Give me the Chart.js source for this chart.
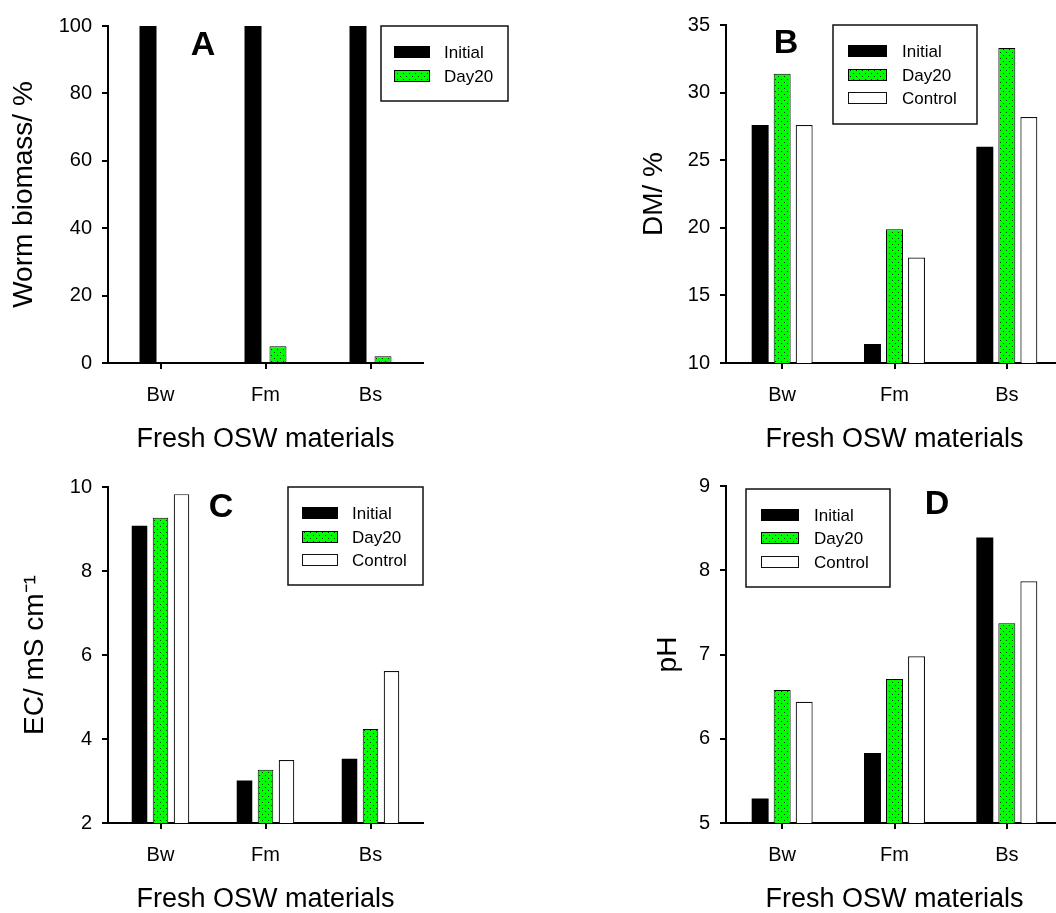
<!DOCTYPE html>
<html>
<head>
<meta charset="utf-8">
<script src="https://cdn.jsdelivr.net/npm/chart.js@4"></script>
<style>
  html, body { margin: 0; padding: 0; background: #fff; overflow: hidden; width: 1056px; height: 913px; }
  canvas { position: absolute; }
</style>
</head>
<body>
<canvas id="chartA" width="528" height="456" style="left:0px;top:0px"></canvas>
<canvas id="chartB" width="560" height="456" style="left:528px;top:0px"></canvas>
<canvas id="chartC" width="528" height="457" style="left:0px;top:456px"></canvas>
<canvas id="chartD" width="560" height="457" style="left:528px;top:456px"></canvas>
<script>
const categories = ['Bw', 'Fm', 'Bs'];
const seriesNames = ['Initial', 'Day20', 'Control'];

// A - worm biomass
const biomassInitial = [100, 100, 100];
const biomassDay20 = [0, 5, 2];
const biomassTicks = [0, 20, 40, 60, 80, 100];

// B - dry matter
const dmInitial = [27.6, 11.4, 26.0];
const dmDay20 = [31.4, 19.9, 33.3];
const dmControl = [27.6, 17.8, 28.2];
const dmTicks = [10, 15, 20, 25, 30, 35];

// C - electrical conductivity
const ecInitial = [9.08, 3.01, 3.53];
const ecDay20 = [9.27, 3.27, 4.24];
const ecControl = [9.83, 3.5, 5.62];
const ecTicks = [2, 4, 6, 8, 10];

// D - pH
const phInitial = [5.29, 5.83, 8.39];
const phDay20 = [6.58, 6.71, 7.37];
const phControl = [6.44, 6.98, 7.87];
const phTicks = [5, 6, 7, 8, 9];

const FONT = '"Liberation Sans", Arial, Helvetica, sans-serif';

// green fill with dark dots
function dottedGreen() {
  const c = document.createElement('canvas');
  c.width = 6; c.height = 6;
  const g = c.getContext('2d');
  g.fillStyle = '#00ff00';
  g.fillRect(0, 0, 6, 6);
  g.fillStyle = '#063006';
  g.fillRect(1, 1, 1, 1);
  g.fillRect(4, 4, 1, 1);
  return g.createPattern(c, 'repeat');
}
const greenDots = dottedGreen();

function makeDatasets(values) {
  const styles = [
    { backgroundColor: '#000', borderColor: '#000', borderWidth: 0 },
    { backgroundColor: greenDots, borderColor: '#000', borderWidth: 1 },
    { backgroundColor: '#fff', borderColor: '#111', borderWidth: 1.2 }
  ];
  return values.map((v, i) => Object.assign({ label: seriesNames[i], data: v }, styles[i]));
}

// panel letter and boxed legend
const panelDecor = {
  id: 'panelDecor',
  afterDraw(chart, args, o) {
    const ctx = chart.ctx;
    ctx.save();
    ctx.fillStyle = '#000';
    ctx.font = 'bold 34px ' + FONT;
    ctx.textAlign = 'center';
    ctx.textBaseline = 'middle';
    ctx.fillText(o.letter, o.letterX, o.letterY);

    const b = o.box;
    ctx.fillStyle = '#fff';
    ctx.fillRect(b[0], b[1], b[2] - b[0], b[3] - b[1]);
    ctx.strokeStyle = '#111';
    ctx.lineWidth = 1.5;
    ctx.strokeRect(b[0], b[1], b[2] - b[0], b[3] - b[1]);

    ctx.font = '17px ' + FONT;
    ctx.textAlign = 'left';
    chart.data.datasets.forEach((ds, i) => {
      const y = o.rows[i];
      const x0 = o.swatch[0], w = o.swatch[1] - o.swatch[0], h = 12;
      ctx.fillStyle = ds.backgroundColor;
      ctx.fillRect(x0, y - h / 2, w, h);
      if (ds.borderWidth) {
        ctx.strokeStyle = ds.borderColor;
        ctx.lineWidth = 1;
        ctx.strokeRect(x0 + 0.5, y - h / 2 + 0.5, w - 1, h - 1);
      }
      ctx.fillStyle = '#000';
      ctx.fillText(ds.label, o.textX, y + 1);
    });
    ctx.restore();
  }
};

function makePanel(id, p) {
  const canvas = document.getElementById(id);
  const H = canvas.height;
  return new Chart(canvas.getContext('2d'), {
    type: 'bar',
    data: { labels: categories, datasets: makeDatasets(p.values) },
    options: {
      responsive: false,
      animation: false,
      categoryPercentage: p.cp,
      barPercentage: p.bp,
      layout: { padding: { top: p.top, right: p.padRight, bottom: 0, left: 0 } },
      plugins: {
        legend: { display: false },
        tooltip: { enabled: false },
        panelDecor: p.decor
      },
      scales: {
        x: {
          grid: { display: true, drawOnChartArea: false, offset: false, tickLength: 6, color: '#000', lineWidth: 2 },
          border: { display: true, color: '#000', width: 2 },
          ticks: { color: '#000', padding: 14, font: { family: FONT, size: 20 } },
          title: { display: true, text: 'Fresh OSW materials', color: '#000',
                   font: { family: FONT, size: 27, lineHeight: 1 }, padding: { top: 0, bottom: p.xTitlePad } },
          afterFit(scale) { scale.height = H - p.bottom; }
        },
        y: {
          min: p.ticks[0],
          max: p.ticks[p.ticks.length - 1],
          grid: { display: true, drawOnChartArea: false, tickLength: 6, color: '#000', lineWidth: 2 },
          border: { display: true, color: '#000', width: 2 },
          ticks: { color: '#000', padding: 10, stepSize: p.ticks[1] - p.ticks[0], font: { family: FONT, size: 20 } },
          title: { display: true, text: p.yTitle, color: '#000',
                   font: { family: FONT, size: 28, lineHeight: 1 }, padding: { top: p.yTitleOffset - 14, bottom: 0 } },
          afterFit(scale) { scale.width = p.left; }
        }
      }
    },
    plugins: [panelDecor]
  });
}

makePanel('chartA', {
  values: [biomassInitial, biomassDay20], ticks: biomassTicks,
  cp: 0.476, bp: 0.68,
  left: 108, top: 26, bottom: 363, padRight: 105,
  yTitle: 'Worm biomass/ %', yTitleOffset: 24, xTitlePad: 2.5,
  decor: { letter: 'A', letterX: 203, letterY: 46,
           box: [381, 26, 508, 101], swatch: [394, 430], rows: [52, 76], textX: 444 }
});

makePanel('chartB', {
  values: [dmInitial, dmDay20, dmControl], ticks: dmTicks,
  cp: 0.588, bp: 0.77,
  left: 198, top: 25, bottom: 363, padRight: 25,
  yTitle: 'DM/ %', yTitleOffset: 126, xTitlePad: 2.5,
  decor: { letter: 'B', letterX: 258, letterY: 44,
           box: [305, 25, 449, 124], swatch: [320, 359], rows: [51, 75, 98], textX: 374 }
});

makePanel('chartC', {
  values: [ecInitial, ecDay20, ecControl], ticks: ecTicks,
  cp: 0.6, bp: 0.74,
  left: 108, top: 31, bottom: 367, padRight: 105,
  yTitle: 'EC/ mS cm\u207B\u00B9', yTitleOffset: 35, xTitlePad: 0,
  decor: { letter: 'C', letterX: 221, letterY: 52,
           box: [288, 31, 423, 129], swatch: [302, 338], rows: [57, 81, 104], textX: 352 }
});

makePanel('chartD', {
  values: [phInitial, phDay20, phControl], ticks: phTicks,
  cp: 0.588, bp: 0.77,
  left: 198, top: 30, bottom: 367, padRight: 25,
  yTitle: 'pH', yTitleOffset: 140, xTitlePad: 0,
  decor: { letter: 'D', letterX: 409, letterY: 49,
           box: [218, 33, 362, 131], swatch: [233, 271], rows: [59, 82, 106], textX: 286 }
});
</script>
</body>
</html>
